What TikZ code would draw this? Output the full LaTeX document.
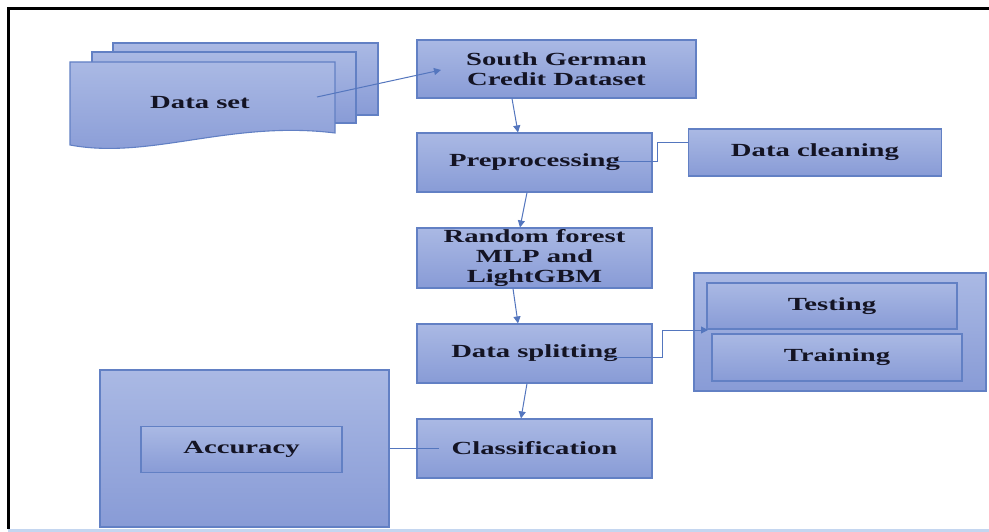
\documentclass[tikz,border=0pt]{standalone}
\usepackage{fontspec}
\newfontfamily\boxfont{Liberation Serif}[FakeStretch=1.55]
\usetikzlibrary{arrows.meta}
\definecolor{fillTop}{RGB}{170,185,228}
\definecolor{fillBot}{RGB}{136,155,214}
\definecolor{edge}{RGB}{98,128,196}
\definecolor{link}{RGB}{84,118,190}
\definecolor{rule}{RGB}{196,214,240}
\definecolor{ink}{RGB}{20,20,36}

\begin{document}
\begin{tikzpicture}[x=1pt,y=-1pt,
  panel/.style={draw=edge, line width=1.1pt, top color=fillTop, bottom color=fillBot,
    inner sep=0pt, align=center, text=ink,
    font=\boxfont\bfseries\fontsize{18.5}{20}\selectfont},
  label/.style={inner sep=0pt, align=center, text=ink,
    font=\boxfont\bfseries\fontsize{18.5}{20}\selectfont},
  flow/.style={draw=link, line width=1pt, -{Triangle[length=7pt,width=7pt]}},
  plain/.style={draw=link, line width=1pt},
  sheet/.style={draw=edge, line width=1.1pt, top color=fillTop, bottom color=fillBot}]

\useasboundingbox (0,0) rectangle (989,532);
\fill[white] (0,0) rectangle (989,532);

% page frame
\draw[line width=2.5pt, line cap=rect] (8.5,528) -- (8.5,8.5) -- (989,8.5);
\fill[rule] (8,528.5) rectangle (989,532);

% stacked documents holding the raw data
\path[sheet] (113,43) rectangle (378,115);
\path[sheet] (92,52) rectangle (356,123);
\path[sheet] (70,62) -- (335,62) -- (335,133)
  .. controls (230,120) and (150,160) .. (70,145) -- cycle;
\node[label] (dset) at (200,103) {Data set};

% main pipeline
\node[panel, minimum width=279pt, minimum height=58pt] (sg) at (556.5,69)
  {South German\\Credit Dataset};
\node[panel, minimum width=235pt, minimum height=59pt] (pre) at (534.5,162.5)
  {Preprocessing};
\node[panel, minimum width=235pt, minimum height=60pt] (rf) at (534.5,258)
  {Random forest\\MLP and\\LightGBM};
\node[panel, minimum width=235pt, minimum height=59pt] (ds) at (534.5,353.5)
  {Data splitting};
\node[panel, minimum width=235pt, minimum height=59pt] (cls) at (534.5,448.5)
  {Classification};

% side boxes
\node[panel, minimum width=253pt, minimum height=47pt] (clean) at (815,152.5)
  {Data cleaning};
\node[panel, minimum width=292pt, minimum height=118pt] (split) at (840,332) {};
\node[panel, minimum width=250pt, minimum height=46pt] (test) at (832,306)
  {Testing};
\node[panel, minimum width=250pt, minimum height=47pt] (train) at (837,357.5)
  {Training};
\node[panel, minimum width=289pt, minimum height=157pt] (accwrap) at (244.5,448.5) {};
\node[panel, minimum width=201pt, minimum height=46pt] (acc) at (241.5,449.5)
  {Accuracy};

% connector end points
\coordinate (dsetout) at (317,97);
\coordinate (sgin) at (441,70);
\coordinate (preout) at (613,162);
\coordinate (cleanin) at (688,143);
\coordinate (splitout) at (613,357);
\coordinate (testin) at (708,330);
\coordinate (clsin) at (439,448.5);

% connectors
\draw[flow] (dsetout) -- (sgin);
\draw[flow] ([xshift=-44.5pt]sg.south) -- ([xshift=-16.5pt]pre.north);
\draw[flow] ([xshift=-7.5pt]pre.south) -- ([xshift=-14.5pt]rf.north);
\draw[flow] ([xshift=-21.5pt]rf.south) -- ([xshift=-16.5pt]ds.north);
\draw[flow] ([xshift=-7.5pt]ds.south) -- ([xshift=-13.5pt]cls.north);
\draw[plain] (preout) -- ++(44,0) |- (cleanin);
\draw[flow] (splitout) -- ++(49,0) |- (testin);
\draw[plain] (accwrap.east) -- (clsin);
\end{tikzpicture}
\end{document}
